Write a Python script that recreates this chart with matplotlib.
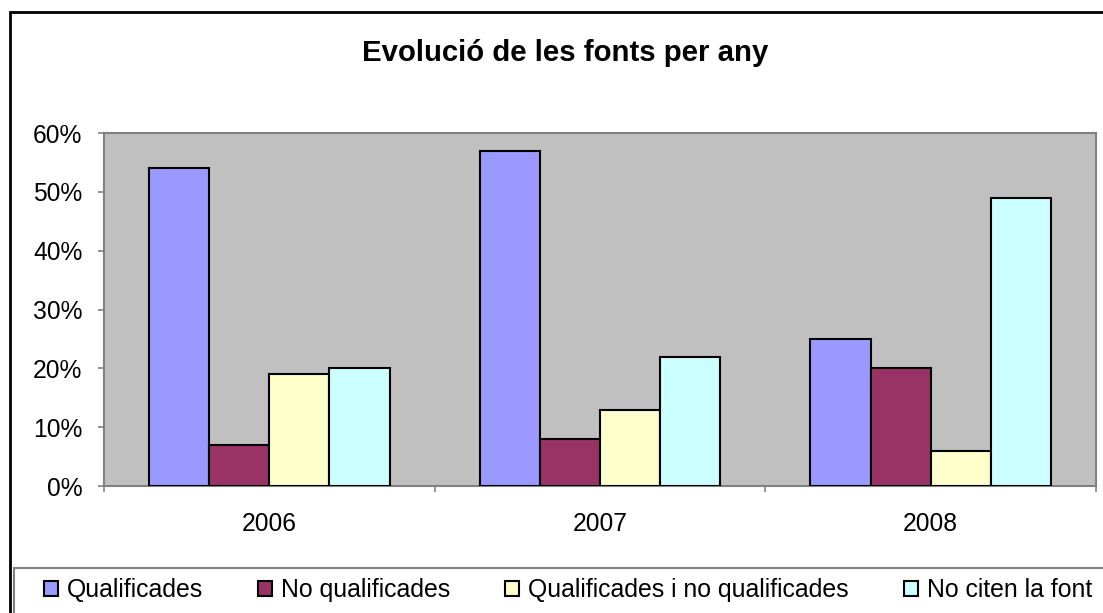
import matplotlib
matplotlib.use("Agg")
import matplotlib.pyplot as plt
import matplotlib.patches as mpatches
import numpy as np

years = ["2006", "2007", "2008"]
series_names = ["Qualificades", "No qualificades", "Qualificades i no qualificades", "No citen la font"]
qualificades = [54, 57, 25]
no_qualificades = [7, 8, 20]
qual_i_no_qual = [19, 13, 6]
no_citen = [20, 22, 49]
series_values = [qualificades, no_qualificades, qual_i_no_qual, no_citen]
colors = ["#9999FF", "#993366", "#FFFFCC", "#CCFFFF"]
yticks = [0, 10, 20, 30, 40, 50, 60]

plt.rcParams['font.family'] = ['Liberation Sans', 'DejaVu Sans']

W, H = 1103, 613
FS = 17.7
LFS = 17.9
fig = plt.figure(figsize=(W/100, H/100), dpi=100)
fig.patch.set_facecolor("white")

# outer chart border (cropped at right & bottom)
fig.add_artist(mpatches.Rectangle((10/W, -0.2), 2.0, 1.2 - 12/H, transform=fig.transFigure,
                                  fill=False, edgecolor="black", linewidth=2.0))

ax = fig.add_axes([104/W, (H-486)/H, 992/W, 353/H])
ax.set_facecolor("#C0C0C0")

n = len(series_values)
w = 1/5.5
x = np.arange(len(years))
handles = []
for j, (vals, c, name) in enumerate(zip(series_values, colors, series_names)):
    b = ax.bar(x + (j - (n-1)/2)*w, vals, width=w, color=c, edgecolor="black",
               linewidth=1.5, label=name, zorder=3)
    handles.append(b)

ax.set_xlim(-0.5, len(years)-0.5)
ax.set_ylim(0, 60)
ax.set_yticks(yticks)
ax.set_yticklabels([f"{v}%" for v in yticks], fontsize=FS)
ax.set_xticks(x)
ax.set_xticklabels(years, fontsize=FS)
ax.tick_params(axis='x', which='major', length=0, pad=18.5)
ax.set_xticks(np.arange(len(years)+1) - 0.5, minor=True)
ax.tick_params(axis='x', which='minor', length=4.5, color="#808080", width=1.2)
ax.tick_params(axis='y', length=4.5, color="#808080", width=1.2, pad=11)
for s in ax.spines.values():
    s.set_color("#808080")
    s.set_linewidth(1.5)

fig.text(565/W, 1 - 53/H, "Evolució de les fonts per any", ha="center", va="center",
         fontsize=21.2, fontweight="bold")

# legend frame (cropped)
fig.add_artist(mpatches.Rectangle((14/W, -0.2), 2.0, 0.2 + (H-568)/H, transform=fig.transFigure,
                                  fill=False, edgecolor="#808080", linewidth=1.5))

leg = fig.legend(handles=handles, labels=series_names, ncol=4, frameon=False,
                 loc="center left", bbox_to_anchor=(44/W, 1 - 590/H),
                 fontsize=LFS, handlelength=0.57, handleheight=0.57,
                 handletextpad=0.36, columnspacing=2.2, borderaxespad=0, borderpad=0)

fig.savefig("out.png", dpi=100)
